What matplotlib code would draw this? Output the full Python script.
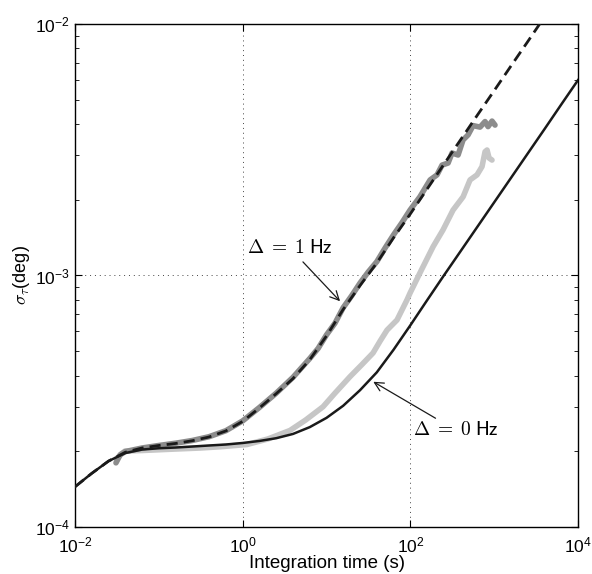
"""Angular noise vs integration time, log-log comparison of model and measurement."""
import matplotlib
matplotlib.use("Agg")
import matplotlib.pyplot as plt
from matplotlib.ticker import LogLocator, NullLocator, NullFormatter

plt.rcParams["font.family"] = ["Liberation Sans", "DejaVu Sans"]
plt.rcParams["mathtext.fontset"] = "custom"
plt.rcParams["mathtext.rm"] = "Liberation Sans"
plt.rcParams["mathtext.it"] = "Liberation Sans:italic"

# model, delta = 0 Hz (solid black)
tau_model0 = [0.01, 0.0158, 0.0251, 0.0398, 0.0631, 0.1, 0.158, 0.251, 0.398, 0.631,
              1.0, 1.58, 2.51, 3.98, 6.31, 10, 15.8, 25.1, 39.8, 63.1,
              100, 158, 251, 398, 631, 1000, 1585, 2512, 3981, 6310, 10000]
sig_model0 = [1.445e-4, 1.633e-4, 1.828e-4, 1.968e-4, 2.032e-4, 2.056e-4, 2.070e-4,
              2.089e-4, 2.109e-4, 2.128e-4, 2.158e-4, 2.198e-4, 2.254e-4, 2.344e-4,
              2.495e-4, 2.716e-4, 3.034e-4, 3.499e-4, 4.121e-4, 5.070e-4, 6.339e-4,
              7.962e-4, 1.0e-3, 1.250e-3, 1.563e-3, 1.954e-3, 2.443e-3, 3.055e-3,
              3.819e-3, 4.786e-3, 5.984e-3]

# model, delta = 1 Hz (dashed black)
tau_model1 = [0.01, 0.0158, 0.0251, 0.0398, 0.0631, 0.1, 0.158, 0.251, 0.398, 0.631,
              1.0, 1.58, 2.51, 3.98, 6.31, 10, 15.8, 25.1, 39.8, 63.1,
              100, 158, 251, 398, 631, 1000, 1585, 2512, 3981]
sig_model1 = [1.445e-4, 1.633e-4, 1.828e-4, 1.982e-4, 2.061e-4, 2.109e-4, 2.148e-4,
              2.203e-4, 2.280e-4, 2.410e-4, 2.630e-4, 2.972e-4, 3.388e-4, 3.890e-4,
              4.624e-4, 5.754e-4, 7.328e-4, 9.120e-4, 1.122e-3, 1.413e-3, 1.758e-3,
              2.203e-3, 2.767e-3, 3.467e-3, 4.345e-3, 5.433e-3, 6.808e-3, 8.511e-3,
              1.067e-2]

# measured, delta = 1 Hz (dark gray)
tau_meas1 = [0.0308, 0.0347, 0.0398, 0.0631, 0.1, 0.158, 0.251, 0.398, 0.631, 1.0,
             1.58, 2.51, 3.98, 6.31, 7.94, 10, 12.6, 15.8, 20.0, 25.1,
             31.6, 39.8, 50.1, 63.1, 79.4, 99.1, 130, 172, 208, 239,
             282, 314, 371, 425, 488, 560, 678, 778, 845, 942, 1023]
sig_meas1 = [1.799e-4, 1.941e-4, 1.995e-4, 2.061e-4, 2.109e-4, 2.153e-4, 2.208e-4,
             2.286e-4, 2.415e-4, 2.642e-4, 2.985e-4, 3.404e-4, 3.936e-4, 4.677e-4,
             5.129e-4, 5.808e-4, 6.457e-4, 7.447e-4, 8.318e-4, 9.333e-4, 1.035e-3,
             1.135e-3, 1.288e-3, 1.452e-3, 1.622e-3, 1.820e-3, 2.056e-3, 2.399e-3,
             2.512e-3, 2.748e-3, 2.80e-3, 3.069e-3, 3.013e-3, 3.459e-3, 3.622e-3,
             3.945e-3, 3.890e-3, 4.093e-3, 3.908e-3, 4.111e-3, 3.963e-3]

# measured, delta = 0 Hz (light gray)
tau_meas0 = [0.0314, 0.0394, 0.0631, 0.136, 0.316, 0.537, 1.127, 2.0, 3.67, 5.62,
             9.08, 12.6, 19.1, 26.3, 35.9, 43.7, 52.7, 69.3, 91.2, 99.1,
             130, 187, 245, 323, 426, 515, 624, 716, 778, 822, 869, 942]
sig_meas0 = [1.875e-4, 2.004e-4, 2.014e-4, 2.037e-4, 2.061e-4, 2.084e-4, 2.128e-4,
             2.239e-4, 2.421e-4, 2.661e-4, 3.006e-4, 3.404e-4, 3.963e-4, 4.416e-4,
             4.920e-4, 5.495e-4, 6.067e-4, 6.653e-4, 8.0e-4, 8.511e-4, 1.023e-3,
             1.303e-3, 1.517e-3, 1.820e-3, 2.056e-3, 2.399e-3, 2.512e-3, 2.710e-3,
             3.105e-3, 3.155e-3, 2.931e-3, 2.877e-3]

xlim = (1e-2, 1e4)
ylim = (1e-4, 1e-2)
xticks = [1e-2, 1e0, 1e2, 1e4]
xticklabels = [r"$10^{-2}$", r"$10^{0}$", r"$10^{2}$", r"$10^{4}$"]
yticks = [1e-4, 1e-3, 1e-2]
yticklabels = [r"$10^{-4}$", r"$10^{-3}$", r"$10^{-2}$"]


def main():
    fig = plt.figure(figsize=(5.92, 5.74), dpi=100)
    ax = fig.add_axes([0.1267, 0.0819, 0.8497, 0.8763])

    ax.loglog(tau_meas0, sig_meas0, color="#c6c6c6", lw=4.0,
              solid_joinstyle="round", solid_capstyle="round", zorder=2)
    ax.loglog(tau_meas1, sig_meas1, color="#8c8c8c", lw=4.0,
              solid_joinstyle="round", solid_capstyle="round", zorder=3)
    ax.loglog(tau_model0, sig_model0, color="#1a1a1a", lw=1.8, zorder=4)
    ax.loglog(tau_model1, sig_model1, color="#1a1a1a", lw=2.0, ls=(0, (4, 2.2)), zorder=5)

    ax.set_xlim(*xlim)
    ax.set_ylim(*ylim)
    ax.set_xticks(xticks)
    ax.set_xticklabels(xticklabels)
    ax.set_yticks(yticks)
    ax.set_yticklabels(yticklabels)
    ax.xaxis.set_minor_locator(NullLocator())
    ax.yaxis.set_minor_locator(LogLocator(base=10, subs=range(2, 10)))
    ax.yaxis.set_minor_formatter(NullFormatter())
    ax.tick_params(which="both", direction="in", top=True, right=True, labelsize=12.5)
    ax.tick_params(which="major", length=5, width=0.8)
    ax.tick_params(which="minor", length=3, width=0.6)
    ax.tick_params(axis="x", pad=6)
    for s in ax.spines.values():
        s.set_linewidth(1.0)
    ax.grid(True, which="major", ls=(0, (1, 4)), color="#444444", lw=0.7)

    ax.set_xlabel("Integration time (s)", fontsize=13.5, labelpad=0)
    ax.set_ylabel(r"$\sigma_\tau$(deg)", fontsize=13, labelpad=2, math_fontfamily="cm")

    ax.annotate(r"$\Delta\;=\;1\;\mathsf{Hz}$", xy=(14.5, 7.9e-4), xytext=(1.13, 1.285e-3),
                fontsize=14, math_fontfamily="cm", va="center", ha="left",
                arrowprops=dict(arrowstyle="->", color="#1a1a1a", lw=0.9,
                                shrinkA=2, shrinkB=0, mutation_scale=16))
    ax.annotate(r"$\Delta\;=\;0\;\mathsf{Hz}$", xy=(36.1, 3.78e-4), xytext=(107, 2.43e-4),
                fontsize=14, math_fontfamily="cm", va="center", ha="left",
                arrowprops=dict(arrowstyle="->", color="#1a1a1a", lw=0.9,
                                shrinkA=0, shrinkB=0, mutation_scale=16))

    fig.savefig("out.png", dpi=100)


if __name__ == "__main__":
    main()
